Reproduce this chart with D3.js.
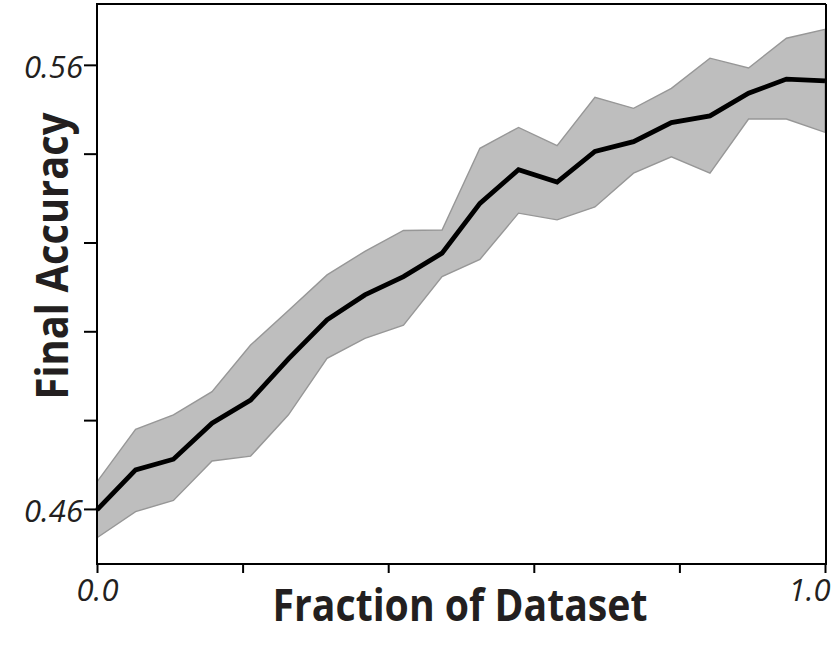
<!DOCTYPE html>
<html>
<head>
<meta charset="utf-8">
<script src="https://cdn.jsdelivr.net/npm/d3@7"></script>
<style>
  html, body { margin: 0; padding: 0; background: #fff; }
  svg { display: block; }
</style>
</head>
<body>
<svg id="chart" width="831" height="653"></svg>
<script>
// ---- data ----
const fraction = [0.000, 0.053, 0.105, 0.158, 0.211, 0.263, 0.316, 0.368, 0.421, 0.474,
                  0.526, 0.579, 0.632, 0.684, 0.737, 0.789, 0.842, 0.895, 0.947, 1.000];
const meanAcc  = [0.4598, 0.4688, 0.4712, 0.4793, 0.4845, 0.4938, 0.5026, 0.5082, 0.5123, 0.5176,
                  0.5288, 0.5364, 0.5336, 0.5405, 0.5427, 0.5470, 0.5485, 0.5536, 0.5568, 0.5564];
const upperAcc = [0.4661, 0.4779, 0.4812, 0.4864, 0.4969, 0.5047, 0.5127, 0.5180, 0.5227, 0.5228,
                  0.5412, 0.5459, 0.5418, 0.5527, 0.5502, 0.5547, 0.5615, 0.5593, 0.5660, 0.5680];
const lowerAcc = [0.4535, 0.4594, 0.4619, 0.4708, 0.4719, 0.4812, 0.4939, 0.4984, 0.5014, 0.5123,
                  0.5162, 0.5266, 0.5251, 0.5280, 0.5356, 0.5393, 0.5356, 0.5478, 0.5478, 0.5448];
const xTickValues = [0.0, 0.2, 0.4, 0.6, 0.8, 1.0];
const xTickLabels = ["0.0", "", "", "", "", "1.0"];
const yTickValues = [0.46, 0.48, 0.50, 0.52, 0.54, 0.56];
const yTickLabels = ["0.46", "", "", "", "", "0.56"];
const xDomain = [0, 1];
const yDomain = [0.4476, 0.5737];
const xTitle = "Fraction of Dataset";
const yTitle = "Final Accuracy";

(function () {
// ---- layout ----
const pL = 97, pR = 825, pT = 4, pB = 564;
const svg = d3.select("#chart");

const x = d3.scaleLinear().domain(xDomain).range([pL, pR]);
const y = d3.scaleLinear().domain(yDomain).range([pB, pT]);

const rows = fraction.map((f, i) => ({f, m: meanAcc[i], lo: lowerAcc[i], hi: upperAcc[i]}));

// band
svg.append("path")
  .datum(rows)
  .attr("d", d3.area().x(d => x(d.f)).y0(d => y(d.lo)).y1(d => y(d.hi)))
  .attr("fill", "#bebebe")
  .attr("stroke", "#979797")
  .attr("stroke-width", 1.4);

// mean line
svg.append("path")
  .datum(rows)
  .attr("d", d3.line().x(d => x(d.f)).y(d => y(d.m)))
  .attr("fill", "none")
  .attr("stroke", "#000")
  .attr("stroke-width", 4.8)
  .attr("stroke-linejoin", "miter");

// frame: top and right borders
svg.append("line").attr("x1", pL).attr("x2", pR + 1).attr("y1", pT).attr("y2", pT)
  .attr("stroke", "#000").attr("stroke-width", 2);
svg.append("line").attr("x1", pR + 1).attr("x2", pR + 1).attr("y1", pT).attr("y2", pB)
  .attr("stroke", "#000").attr("stroke-width", 2);

// axes
const xAxis = d3.axisBottom(x).tickValues(xTickValues)
  .tickFormat((d, i) => xTickLabels[i]).tickSizeInner(9).tickSizeOuter(0).tickPadding(6);
const yAxis = d3.axisLeft(y).tickValues(yTickValues)
  .tickFormat((d, i) => yTickLabels[i]).tickSizeInner(13).tickSizeOuter(0).tickPadding(1);

const gx = svg.append("g").attr("transform", `translate(0,${pB})`).call(xAxis);
const gy = svg.append("g").attr("transform", `translate(${pL},0)`).call(yAxis);

[gx, gy].forEach(g => {
  g.select(".domain").attr("stroke", "#000").attr("stroke-width", 2);
  g.selectAll(".tick line").attr("stroke", "#000").attr("stroke-width", 2);
  g.selectAll(".tick text")
    .attr("fill", "#231f20")
    .style("font-family", "'Open Sans', 'DejaVu Sans', sans-serif")
    .style("font-style", "italic")
    .style("font-size", "31px");
});
gy.select(".domain").attr("d", `M0,${pT - 1}V${pB + 1}`);
gx.select(".domain").attr("d", `M${pL - 1},0H${pR + 2}`);
gy.selectAll(".tick text").attr("dy", "0.40em");
gx.selectAll(".tick text").attr("dy", "0.70em");
gx.selectAll(".tick text").filter((d, i) => i === xTickValues.length - 1)
  .attr("text-anchor", "end").attr("x", 5);

// titles
svg.append("text")
  .attr("x", 460).attr("y", 621)
  .attr("text-anchor", "middle")
  .attr("textLength", 375).attr("lengthAdjust", "spacingAndGlyphs")
  .style("font-family", "'Open Sans', 'DejaVu Sans', sans-serif")
  .style("font-weight", "bold")
  .style("font-size", "44px")
  .attr("fill", "#231f20")
  .text(xTitle);

svg.append("text")
  .attr("transform", "translate(68,256) rotate(-90)")
  .attr("text-anchor", "middle")
  .attr("textLength", 287).attr("lengthAdjust", "spacingAndGlyphs")
  .style("font-family", "'Open Sans', 'DejaVu Sans', sans-serif")
  .style("font-weight", "bold")
  .style("font-size", "45px")
  .attr("fill", "#231f20")
  .text(yTitle);
})();
</script>
</body>
</html>
